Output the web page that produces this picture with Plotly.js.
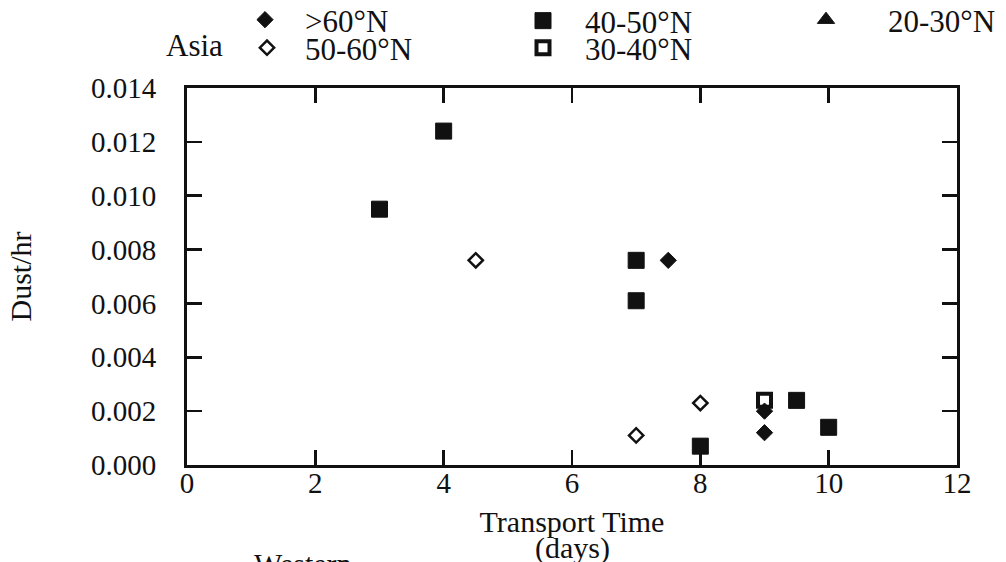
<!DOCTYPE html>
<html>
<head>
<meta charset="utf-8">
<script src="https://cdn.plot.ly/plotly-3.0.1.min.js"></script>
<style>
  html, body { margin: 0; padding: 0; background: #ffffff; }
  #chart { width: 1006px; height: 562px; }
</style>
</head>
<body>
<div id="chart"></div>
<script>
// Dust per hour against transport time (days), grouped by source latitude band (Asia)
const daysOver60 = [7.5, 9, 9];
const dustOver60 = [0.0076, 0.0020, 0.0012];

const days50to60 = [4.5, 7, 8];
const dust50to60 = [0.0076, 0.0011, 0.0023];

const days40to50 = [3, 4, 7, 7, 8, 9.5, 10];
const dust40to50 = [0.0095, 0.0124, 0.0076, 0.0061, 0.0007, 0.0024, 0.0014];

const days30to40 = [9];
const dust30to40 = [0.0024];

// no readings in this band; kept so the band still has a legend entry
const days20to30 = [null];
const dust20to30 = [null];

const xTicks = [0, 2, 4, 6, 8, 10, 12];
const yTicks = [0, 0.002, 0.004, 0.006, 0.008, 0.010, 0.012, 0.014];

const serif = "'Liberation Serif', 'Times New Roman', Times, serif";
const ink = '#111111';

// plot area in pixels, used to place the header items in paper units
const plotLeft = 187, plotWidth = 770, plotBottom = 465, plotHeight = 377;
const px = x => (x - plotLeft) / plotWidth;
const py = y => (plotBottom - y) / plotHeight;

const traces = [
  {
    name: '30-40°N', x: days30to40, y: dust30to40, type: 'scatter', mode: 'markers',
    marker: { symbol: 'square', size: 13, color: '#ffffff', line: { color: ink, width: 4 } },
    legend: 'legend4'
  },
  {
    name: '>60°N', x: daysOver60, y: dustOver60, type: 'scatter', mode: 'markers',
    marker: { symbol: 'diamond', size: 12.5, color: ink, line: { color: ink, width: 1 } },
    legend: 'legend'
  },
  {
    name: '50-60°N', x: days50to60, y: dust50to60, type: 'scatter', mode: 'markers',
    marker: { symbol: 'diamond', size: 11, color: '#ffffff', line: { color: ink, width: 2.5 } },
    legend: 'legend2'
  },
  {
    name: '40-50°N', x: days40to50, y: dust40to50, type: 'scatter', mode: 'markers',
    marker: { symbol: 'square', size: 16, color: ink, line: { color: ink, width: 1 } },
    legend: 'legend3'
  },
  {
    name: '20-30°N', x: days20to30, y: dust20to30, type: 'scatter', mode: 'markers',
    marker: { symbol: 'triangle-up', size: 15, color: ink, line: { color: ink, width: 1 } },
    legend: 'legend5'
  }
];

// one single-entry legend per latitude band, laid out as a small grid above the plot
function header(left, midY, itemwidth) {
  return {
    orientation: 'v', xanchor: 'left', yanchor: 'middle',
    x: px(left), y: py(midY), itemwidth: itemwidth,
    bgcolor: 'rgba(0,0,0,0)', borderwidth: 0,
    font: { family: serif, size: 31, color: ink }
  };
}

const axisCommon = {
  showline: true, linecolor: ink, linewidth: 3, mirror: 'ticks',
  ticks: 'inside', ticklen: 15, tickwidth: 2.5, tickcolor: ink,
  showgrid: false, zeroline: false, fixedrange: true,
  tickfont: { family: serif, size: 29, color: ink }
};

const layout = {
  width: 1006, height: 562,
  margin: { l: 187, r: 49, t: 88, b: 97, autoexpand: false },
  paper_bgcolor: '#ffffff', plot_bgcolor: '#ffffff',
  font: { family: serif, size: 29, color: ink },
  showlegend: true,
  legend: header(225, 20, 70),
  legend2: header(229, 48, 66),
  legend3: header(501, 21, 74),
  legend4: header(501, 48, 74),
  legend5: header(764, 20, 114),
  xaxis: Object.assign({}, axisCommon, {
    range: [0, 12], tickvals: xTicks, ticktext: xTicks.map(String),
    ticklabelstandoff: -10,
    title: { text: 'Transport Time', standoff: 14, font: { family: serif, size: 30, color: ink } }
  }),
  yaxis: Object.assign({}, axisCommon, {
    range: [0, 0.014], tickvals: yTicks, ticktext: yTicks.map(v => v.toFixed(3)),
    ticklabelstandoff: 22,
    title: { text: 'Dust/hr', standoff: 51, font: { family: serif, size: 30, color: ink } }
  }),
  annotations: [
    {
      text: '(days)', xref: 'paper', yref: 'paper', x: 0.5, y: py(548),
      xanchor: 'center', yanchor: 'middle', showarrow: false,
      font: { family: serif, size: 30, color: ink }
    },
    {
      text: 'Asia', xref: 'paper', yref: 'paper', x: px(194), y: py(46),
      xanchor: 'center', yanchor: 'middle', showarrow: false,
      font: { family: serif, size: 31, color: ink }
    },
    {
      text: 'Western', xref: 'paper', yref: 'paper', x: px(252), y: py(545),
      xanchor: 'left', yanchor: 'top', showarrow: false,
      font: { family: serif, size: 30, color: ink }
    }
  ]
};

Plotly.newPlot('chart', traces, layout, { displayModeBar: false, staticPlot: true });
</script>
</body>
</html>
